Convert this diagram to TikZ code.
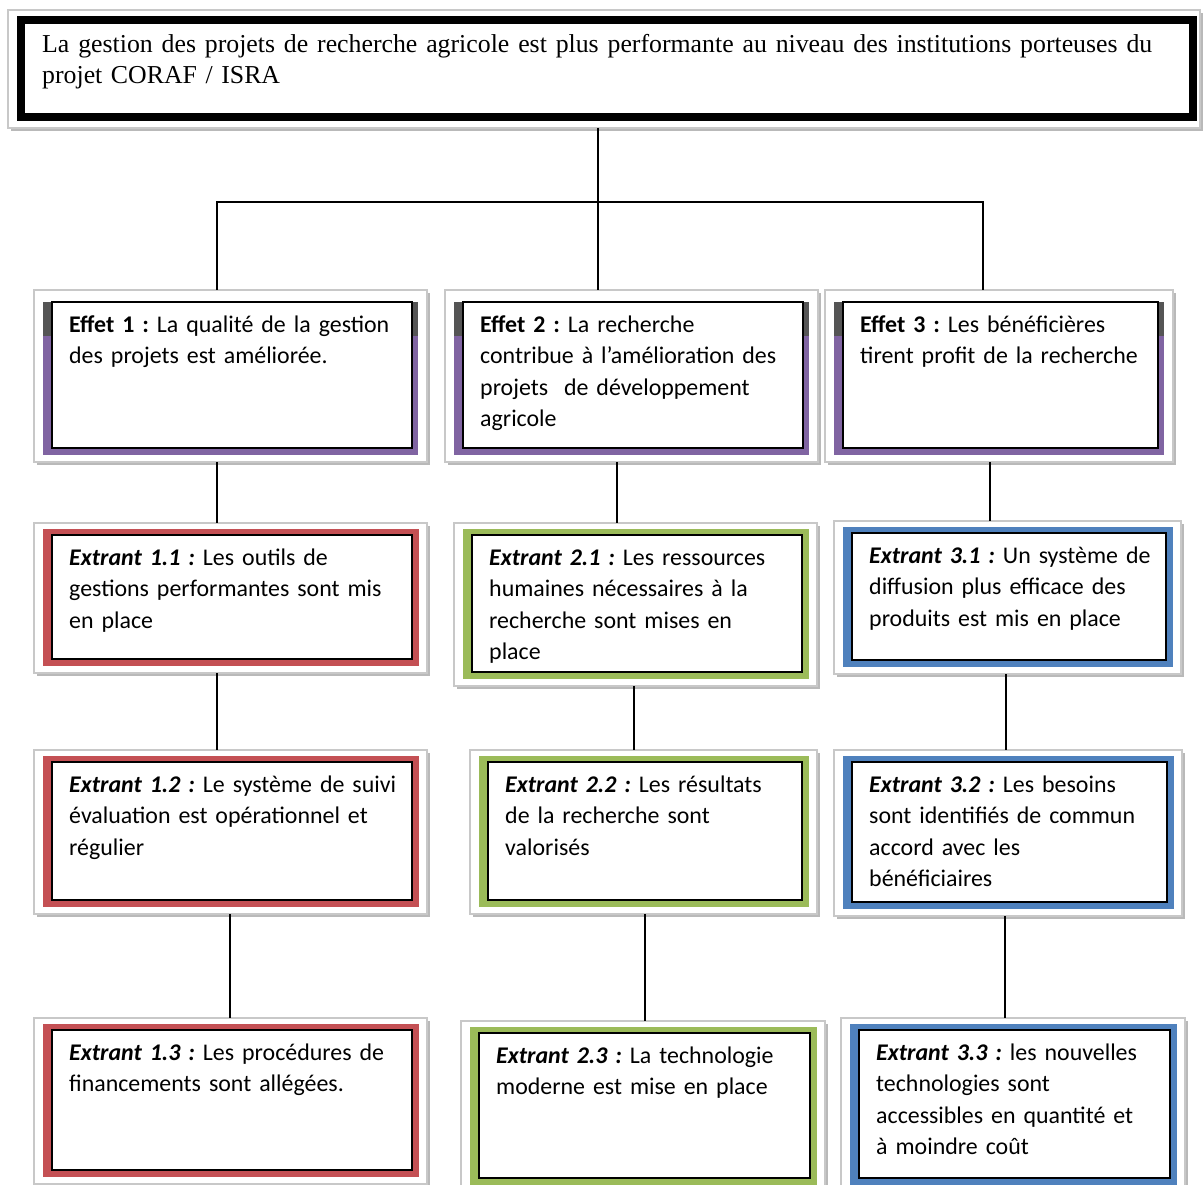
\documentclass[tikz,border=0pt]{standalone}
\usepackage{fontspec}
\setmainfont{Carlito}
\newfontfamily\titlefont{Liberation Serif}
\frenchspacing

\definecolor{bandred}{RGB}{196,80,84}
\definecolor{bandgreen}{RGB}{155,187,89}
\definecolor{bandblue}{RGB}{79,129,189}
\definecolor{bandpurple}{RGB}{128,100,162}
\definecolor{bandtop}{RGB}{85,85,85}
\definecolor{framegray}{RGB}{200,200,200}
\definecolor{shadowgray}{RGB}{185,185,185}

\tikzset{
  outframe/.style={draw=framegray, line width=1.2pt, fill=white, inner sep=0pt, outer sep=0pt},
  innerframe/.style={draw=black, line width=2.2pt, fill=white},
  boxtext/.style={anchor=base west, inner sep=0pt, text width=380pt, align=left,
    font=\fontsize{23.9}{31.5}\selectfont},
  link/.style={draw=black, line width=1.3pt},
}

% light outer frame with a drop shadow; the frame is the named node
\newcommand\boxshell[5]{%
  \fill[shadowgray] ({#2-18+3},{#3-12+3}) rectangle ({#4+15+3},{#5+14+3});
  \node[outframe, minimum width={#4-#2+33}, minimum height={#5-#3+26}]
    (#1) at ({(#2+#4)/2-1.5},{(#3+#5)/2+1}) {};
}
% output box: coloured band all round, black inner frame, text
\newcommand\outputbox[7]{%
  \boxshell{#1}{#2}{#3}{#4}{#5}
  \fill[#6] ({#2-9},{#3-6}) rectangle ({#4+7},{#5+7});
  \draw[innerframe] (#2,#3) rectangle (#4,#5);
  \node[boxtext] (#1-text) at ({#2+17},{#3+30}) {#7};
}
% effect box: purple band on sides and bottom, dark at the top of the sides
\newcommand\effectbox[6]{%
  \boxshell{#1}{#2}{#3}{#4}{#5}
  \fill[bandpurple] ({#2-9},#3) rectangle ({#4+6},{#5+7});
  \fill[bandtop] ({#2-9},#3) rectangle (#2,{#3+34});
  \fill[bandtop] (#4,#3) rectangle ({#4+6},{#3+34});
  \draw[innerframe] (#2,#3) rectangle (#4,#5);
  \node[boxtext] (#1-text) at ({#2+17},{#3+30}) {#6};
}
\newcommand\ext[1]{\textbf{\textit{Extrant #1 :}}}
\newcommand\eff[1]{\textbf{Effet #1 :}}

\begin{document}
\begin{tikzpicture}[x=1pt, y=-1pt]
\useasboundingbox (0,0) rectangle (1203,1185);
\fill[white] (0,0) rectangle (1203,1185);

% goal box
\fill[shadowgray] (11,13) rectangle (1203,131);
\node[outframe, minimum width=1192, minimum height=118] (top) at (604,69) {};
\draw[line width=7.5pt] (21,20) rectangle (1193,117);
\node[anchor=base west, inner sep=0pt, text width=1112pt, align=left,
  font=\titlefont\fontsize{25.8}{31}\selectfont] (title) at (42,53)
  {\hbox to 1110pt{\spaceskip=0.25em plus 0.5em minus 0.1em\relax La gestion des projets de recherche agricole est plus performante au niveau des institutions porteuses du}\\projet CORAF / ISRA};

% effects
\effectbox{e1}{52}{302}{412}{448}{\eff{1} La qualité de la gestion\\des projets est améliorée.}
\effectbox{e2}{463}{302}{803}{448}{\eff{2} La recherche\\contribue à l’amélioration des\\projets\ \ de développement\\agricole}
\effectbox{e3}{843}{302}{1158}{448}{\eff{3} Les bénéficières\\tirent profit de la recherche}

% outputs
\outputbox{x11}{52}{535}{412}{659}{bandred}{\ext{1.1} Les outils de\\gestions performantes sont mis\\en place}
\outputbox{x21}{472}{535}{802}{672}{bandgreen}{\ext{2.1} Les ressources\\humaines nécessaires à la\\recherche sont mises en\\place}
\outputbox{x31}{852}{533}{1166}{660}{bandblue}{\ext{3.1} Un système de\\diffusion plus efficace des\\produits est mis en place}
\outputbox{x12}{52}{762}{412}{900}{bandred}{\ext{1.2} Le système de suivi\\évaluation est opérationnel et\\régulier}
\outputbox{x22}{488}{762}{802}{900}{bandgreen}{\ext{2.2} Les résultats\\de la recherche sont\\valorisés}
\outputbox{x32}{852}{762}{1167}{902}{bandblue}{\ext{3.2} Les besoins\\sont identifiés de commun\\accord avec les\\bénéficiaires}
\outputbox{x13}{52}{1030}{412}{1170}{bandred}{\ext{1.3} Les procédures de\\financements sont allégées.}
\outputbox{x23}{479}{1033}{810}{1178}{bandgreen}{\ext{2.3} La technologie\\moderne est mise en place}
\outputbox{x33}{859}{1030}{1170}{1178}{bandblue}{\ext{3.3} les nouvelles\\technologies sont\\accessibles en quantité et\\à moindre coût}

% connector columns
\coordinate (j)  at (598,202);
\coordinate (jl) at (217,202);
\coordinate (jr) at (983,202);
\coordinate (c1a) at (217,0);
\coordinate (c2a) at (617,0);
\coordinate (c3a) at (990,0);
\coordinate (c1b) at (217,0);
\coordinate (c2b) at (634,0);
\coordinate (c3b) at (1006,0);
\coordinate (c1c) at (230,0);
\coordinate (c2c) at (645,0);
\coordinate (c3c) at (1005,0);

\draw[link] (top.south -| j) -- (e2.north -| j);
\draw[link] (e1.north -| jl) -- (jl) -- (jr) -- (e3.north -| jr);

\draw[link] (e1.south -| c1a) -- (x11.north -| c1a);
\draw[link] (e2.south -| c2a) -- (x21.north -| c2a);
\draw[link] (e3.south -| c3a) -- (x31.north -| c3a);
\draw[link] (x11.south -| c1b) -- (x12.north -| c1b);
\draw[link] (x21.south -| c2b) -- (x22.north -| c2b);
\draw[link] (x31.south -| c3b) -- (x32.north -| c3b);
\draw[link] (x12.south -| c1c) -- (x13.north -| c1c);
\draw[link] (x22.south -| c2c) -- (x23.north -| c2c);
\draw[link] (x32.south -| c3c) -- (x33.north -| c3c);
\end{tikzpicture}
\end{document}
